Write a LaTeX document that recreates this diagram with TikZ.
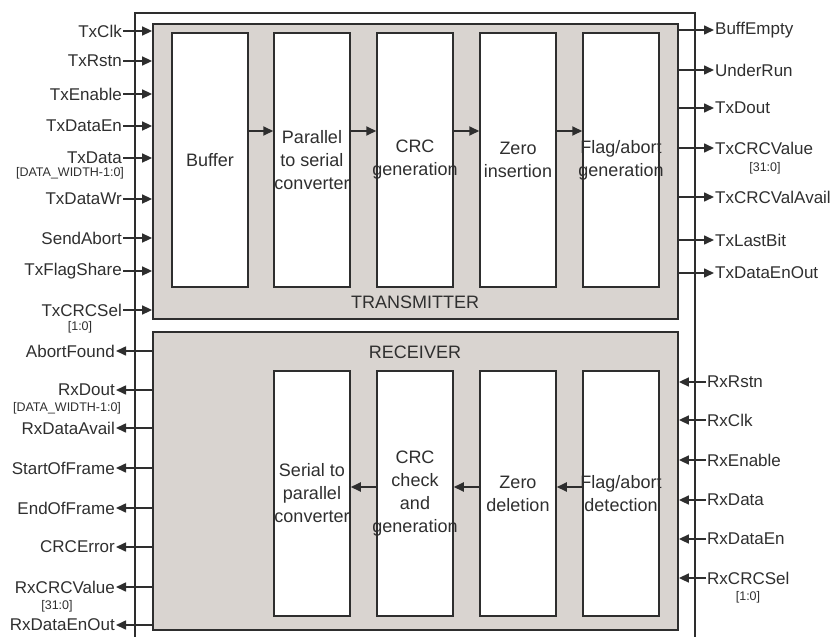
\documentclass[tikz,border=0pt]{standalone}
\usepackage{fontspec}
\setmainfont{Liberation Sans}
\usetikzlibrary{arrows.meta}
\definecolor{linecol}{HTML}{2E2E2E}
\definecolor{txtcol}{HTML}{2F2F2F}
\definecolor{boxgray}{HTML}{D9D4D0}
\begin{document}
\begin{tikzpicture}[x=1pt,y=-1pt,
  graybox/.style={draw=linecol,fill=boxgray,line width=1.8pt,inner sep=0},
  blk/.style={draw=linecol,fill=white,line width=1.5pt,minimum width=76pt,inner sep=0},
  blktxt/.style={font=\fontsize{18}{23}\selectfont,align=center,text=txtcol,inner sep=0},
  lbl/.style={font=\fontsize{17}{19}\selectfont,text=txtcol,inner sep=1pt},
  sub/.style={font=\fontsize{12.5}{14}\selectfont,text=txtcol,inner sep=0},
  sig/.style={-{Triangle[length=10pt,width=9pt]},line width=1.6pt,draw=linecol},
  flow/.style={-{Triangle[length=10pt,width=9pt]},line width=1.8pt,draw=linecol}]
\useasboundingbox (0,0) rectangle (838,637);
% outer box
\draw[linecol,line width=1.3pt] (135,645) -- (135,13) -- (695,13) -- (695,645);
% transmitter
\node[graybox,minimum width=525pt,minimum height=295pt] (txbox) at (415.5,171.5) {};
\foreach \n/\x in {buf/210,p2s/312,crcgen/415,zins/518,flaggen/621}
  \node[blk,minimum height=254pt] (\n) at (\x,160) {};
\node[blktxt] (buftxt) at (buf) {Buffer};
\node[blktxt] (p2stxt) at (p2s) {Parallel\\to serial\\converter};
\node[blktxt] (crcgentxt) at (crcgen) {CRC\\generation};
\node[blktxt] (zinstxt) at (zins) {Zero\\insertion};
\node[blktxt] (flaggentxt) at (flaggen) {Flag/abort\\generation};
\node[blktxt] (txtitle) at (415,302) {TRANSMITTER};
\draw[flow] ([yshift=29pt]buf.east) -- ([yshift=29pt]p2s.west);
\draw[flow] ([yshift=29pt]p2s.east) -- ([yshift=29pt]crcgen.west);
\draw[flow] ([yshift=29pt]crcgen.east) -- ([yshift=29pt]zins.west);
\draw[flow] ([yshift=29pt]zins.east) -- ([yshift=29pt]flaggen.west);
% receiver
\node[graybox,minimum width=525pt,minimum height=298pt] (rxbox) at (415.5,481) {};
\foreach \n/\x in {s2p/312,crcchk/415,zdel/518,flagdet/621}
  \node[blk,minimum height=245pt] (\n) at (\x,493.5) {};
\node[blktxt] (s2ptxt) at (s2p) {Serial to\\parallel\\converter};
\node[blktxt] (crcchktxt) at (crcchk) {CRC\\check\\and\\generation};
\node[blktxt] (zdeltxt) at (zdel) {Zero\\deletion};
\node[blktxt] (flagdettxt) at (flagdet) {Flag/abort\\detection};
\node[blktxt] (rxtitle) at (415,352) {RECEIVER};
\draw[flow] ([yshift=6.5pt]flagdet.west) -- ([yshift=6.5pt]zdel.east);
\draw[flow] ([yshift=6.5pt]zdel.west) -- ([yshift=6.5pt]crcchk.east);
\draw[flow] ([yshift=6.5pt]crcchk.west) -- ([yshift=6.5pt]s2p.east);
% transmitter inputs
\foreach \s/\y in {TxClk/31,TxRstn/61,TxEnable/94,TxDataEn/126,TxData/158,
                   TxDataWr/199,SendAbort/238,TxFlagShare/271,TxCRCSel/310}{
  \node[lbl,anchor=east] (\s) at (123,\y) {\s};
  \draw[sig] (\s.east) -- (\s.east -| txbox.west);
}
\node[sub] (txdatabus) at (70,173) {[DATA\_WIDTH-1:0]};
\node[sub] (txcrcselbus) at (80,327) {[1:0]};
% transmitter outputs
\foreach \s/\y in {BuffEmpty/30,UnderRun/70,TxDout/108,TxCRCValue/148,
                   TxCRCValAvail/197,TxLastBit/240,TxDataEnOut/273}{
  \node[lbl,anchor=west] (\s) at (714,\y) {\s};
  \draw[sig] (\s.west -| txbox.east) -- (\s.west);
}
\node[sub] (txcrcbus) at (765,168) {[31:0]};
% receiver outputs
\foreach \s/\y in {AbortFound/351,RxDout/390,RxDataAvail/428,StartOfFrame/468,
                   EndOfFrame/508,CRCError/547,RxCRCValue/587,RxDataEnOut/625}{
  \node[lbl,anchor=east] (\s) at (116,\y) {\s};
  \draw[sig] (\s.east -| rxbox.west) -- (\s.east);
}
\node[sub] (rxdatabus) at (67,408) {[DATA\_WIDTH-1:0]};
\node[sub] (rxcrcbus) at (57,606) {[31:0]};
% receiver inputs
\foreach \s/\y in {RxRstn/382,RxClk/420,RxEnable/460,RxData/500,
                   RxDataEn/539,RxCRCSel/578}{
  \node[lbl,anchor=west] (\s) at (706,\y) {\s};
  \draw[sig] (\s.west) -- (\s.west -| rxbox.east);
}
\node[sub] (rxcrcselbus) at (748,597) {[1:0]};
\end{tikzpicture}
\end{document}
